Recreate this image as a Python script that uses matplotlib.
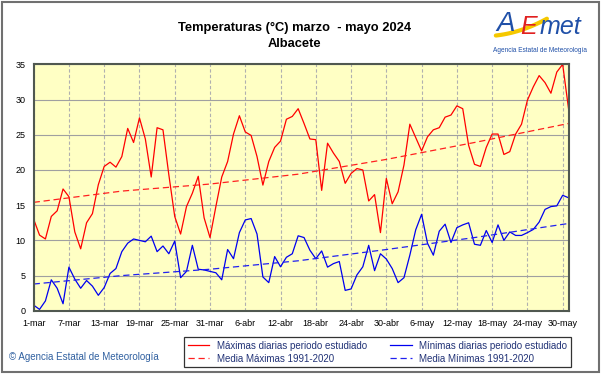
import numpy as np
import matplotlib
matplotlib.use("Agg")
import matplotlib.pyplot as plt
from matplotlib.patches import Rectangle
from matplotlib.lines import Line2D

plt.rcParams['font.family'] = ['Liberation Sans', 'DejaVu Sans']

# días desde el 1 de marzo de 2024 (0 = 1-mar, 91 = 31-may)
dias = np.arange(92)

maximas = [13.0, 10.75, 10.2, 13.4, 14.2, 17.3, 16.2, 11.2, 8.8, 12.5,
           13.8, 17.9, 20.5, 21.1, 20.4, 21.9, 25.9, 23.9, 27.4, 24.4,
           19.0, 26.0, 25.7, 19.3, 13.4, 10.9, 14.8, 16.7, 19.1, 13.2,
           10.4, 14.8, 19.0, 21.2, 25.1, 27.7, 25.4, 24.9, 21.9, 17.85,
           21.2, 23.2, 24.1, 27.2, 27.6, 28.7, 26.6, 24.4, 24.3, 17.1,
           23.8, 22.4, 21.2, 18.1, 19.5, 20.2, 20.0, 15.6, 16.5, 11.1,
           18.8, 15.2, 16.9, 20.7, 26.5, 24.6, 22.7, 24.7, 25.7, 26.0,
           27.5, 27.8, 29.1, 28.7, 23.5, 20.8, 20.5, 23.2, 25.1, 25.1,
           22.2, 22.6, 25.1, 26.5, 29.9, 31.8, 33.4, 32.4, 30.9, 33.9,
           35.0, 28.7]

minimas = [0.8, 0.2, 1.4, 4.4, 3.2, 1.0, 6.2, 4.5, 3.2, 4.3,
           3.5, 2.2, 3.3, 5.3, 6.0, 8.4, 9.6, 10.2, 10.0, 9.8,
           10.6, 8.4, 9.2, 8.1, 9.9, 4.7, 5.6, 9.3, 5.9, 5.8,
           5.6, 5.4, 4.4, 8.7, 7.4, 11.1, 12.9, 13.1, 10.9, 4.8,
           4.0, 7.7, 6.25, 7.6, 8.1, 10.65, 10.4, 8.6, 7.4, 8.5,
           6.2, 6.7, 7.0, 2.9, 3.1, 5.1, 6.25, 9.3, 5.7, 8.1,
           7.35, 6.0, 4.0, 4.7, 7.9, 11.5, 13.7, 9.6, 7.9, 11.3,
           12.3, 9.7, 11.8, 12.2, 12.5, 9.45, 9.3, 11.4, 9.7, 12.2,
           10.0, 11.2, 10.7, 10.7, 11.1, 11.55, 12.6, 14.4, 14.8, 14.9,
           16.4, 16.05]

dias_media = [0, 15, 30, 45, 60, 75, 91]
media_max = [15.4, 17.0, 18.0, 19.4, 21.5, 23.9, 26.6]
media_min = [3.8, 5.0, 5.9, 7.1, 8.7, 10.4, 12.4]

etiquetas_x = ["1-mar", "7-mar", "13-mar", "19-mar", "25-mar", "31-mar",
               "6-abr", "12-abr", "18-abr", "24-abr", "30-abr",
               "6-may", "12-may", "18-may", "24-may", "30-may"]
pos_x = np.arange(0, 91, 6)

fig = plt.figure(figsize=(6.01, 3.74), dpi=100)
ax = fig.add_axes([0.056, 0.169, 0.890, 0.659])
ax.set_facecolor("#FFFFC4")

ax.plot(dias, maximas, color="#FF0000", lw=0.9, label="Máximas diarias periodo estudiado")
ax.plot(dias_media, media_max, color="#FF2020", lw=0.9, ls=(0, (5, 3)), label="Media Máximas 1991-2020")
ax.plot(dias, minimas, color="#0000F0", lw=0.9, label="Mínimas diarias periodo estudiado")
ax.plot(dias_media, media_min, color="#2020F0", lw=0.9, ls=(0, (5, 3)), label="Media Mínimas 1991-2020")

ax.set_xlim(0, 91)
ax.set_ylim(0, 35)
ax.set_yticks(range(0, 36, 5))
ax.set_xticks(pos_x)
ax.set_xticklabels(etiquetas_x)
ax.tick_params(length=0, labelsize=6.5, pad=6)
ax.yaxis.grid(True, color="#A0A0A0", lw=0.8, ls="-")
ax.xaxis.grid(True, color="#B0B0B0", lw=0.8, ls=(0, (3, 2)))
ax.set_axisbelow(True)
for s in ax.spines.values():
    s.set_color("#505850")
    s.set_linewidth(1.5)

fig.text(0.49, 0.925, "Temperaturas (°C) marzo  - mayo 2024", ha="center", va="center",
         fontsize=9.3, fontweight="bold")
fig.text(0.49, 0.882, "Albacete", ha="center", va="center", fontsize=9.3, fontweight="bold")

# logo AEMET aproximado
t = np.linspace(0, 1, 20)
fig.add_artist(Line2D(0.825 + 0.085 * t, 0.905 + 0.045 * t - 0.03 * (1 - t) * t,
                      transform=fig.transFigure, color="#F5C800", lw=3, solid_capstyle="round"))
fig.text(0.826, 0.935, "A", color="#2050A8", fontsize=20, style="italic", ha="left", va="center")
fig.text(0.866, 0.928, "E", color="#E02020", fontsize=18, style="italic", ha="left", va="center")
fig.text(0.898, 0.928, "met", color="#2050A8", fontsize=18, style="italic", ha="left", va="center")
fig.text(0.820, 0.866, "Agencia Estatal de Meteorología", color="#2050A8", fontsize=4.7,
         ha="left", va="center")

fig.text(0.015, 0.045, "© Agencia Estatal de Meteorología", color="#3060A0", fontsize=7,
         ha="left", va="center")

leg = fig.legend(loc="center", bbox_to_anchor=(0.628, 0.058), ncol=2, fontsize=7,
                 frameon=True, fancybox=False, edgecolor="black", handlelength=2.2,
                 columnspacing=2.4, borderpad=0.35, labelspacing=0.3)
leg.get_frame().set_linewidth(0.9)
for t in leg.get_texts():
    t.set_color("#223377")

fig.patches.append(Rectangle((0.004, 0.006), 0.992, 0.988, transform=fig.transFigure,
                             fill=False, edgecolor="#707070", lw=1.5))

fig.savefig("out.png", dpi=100)
